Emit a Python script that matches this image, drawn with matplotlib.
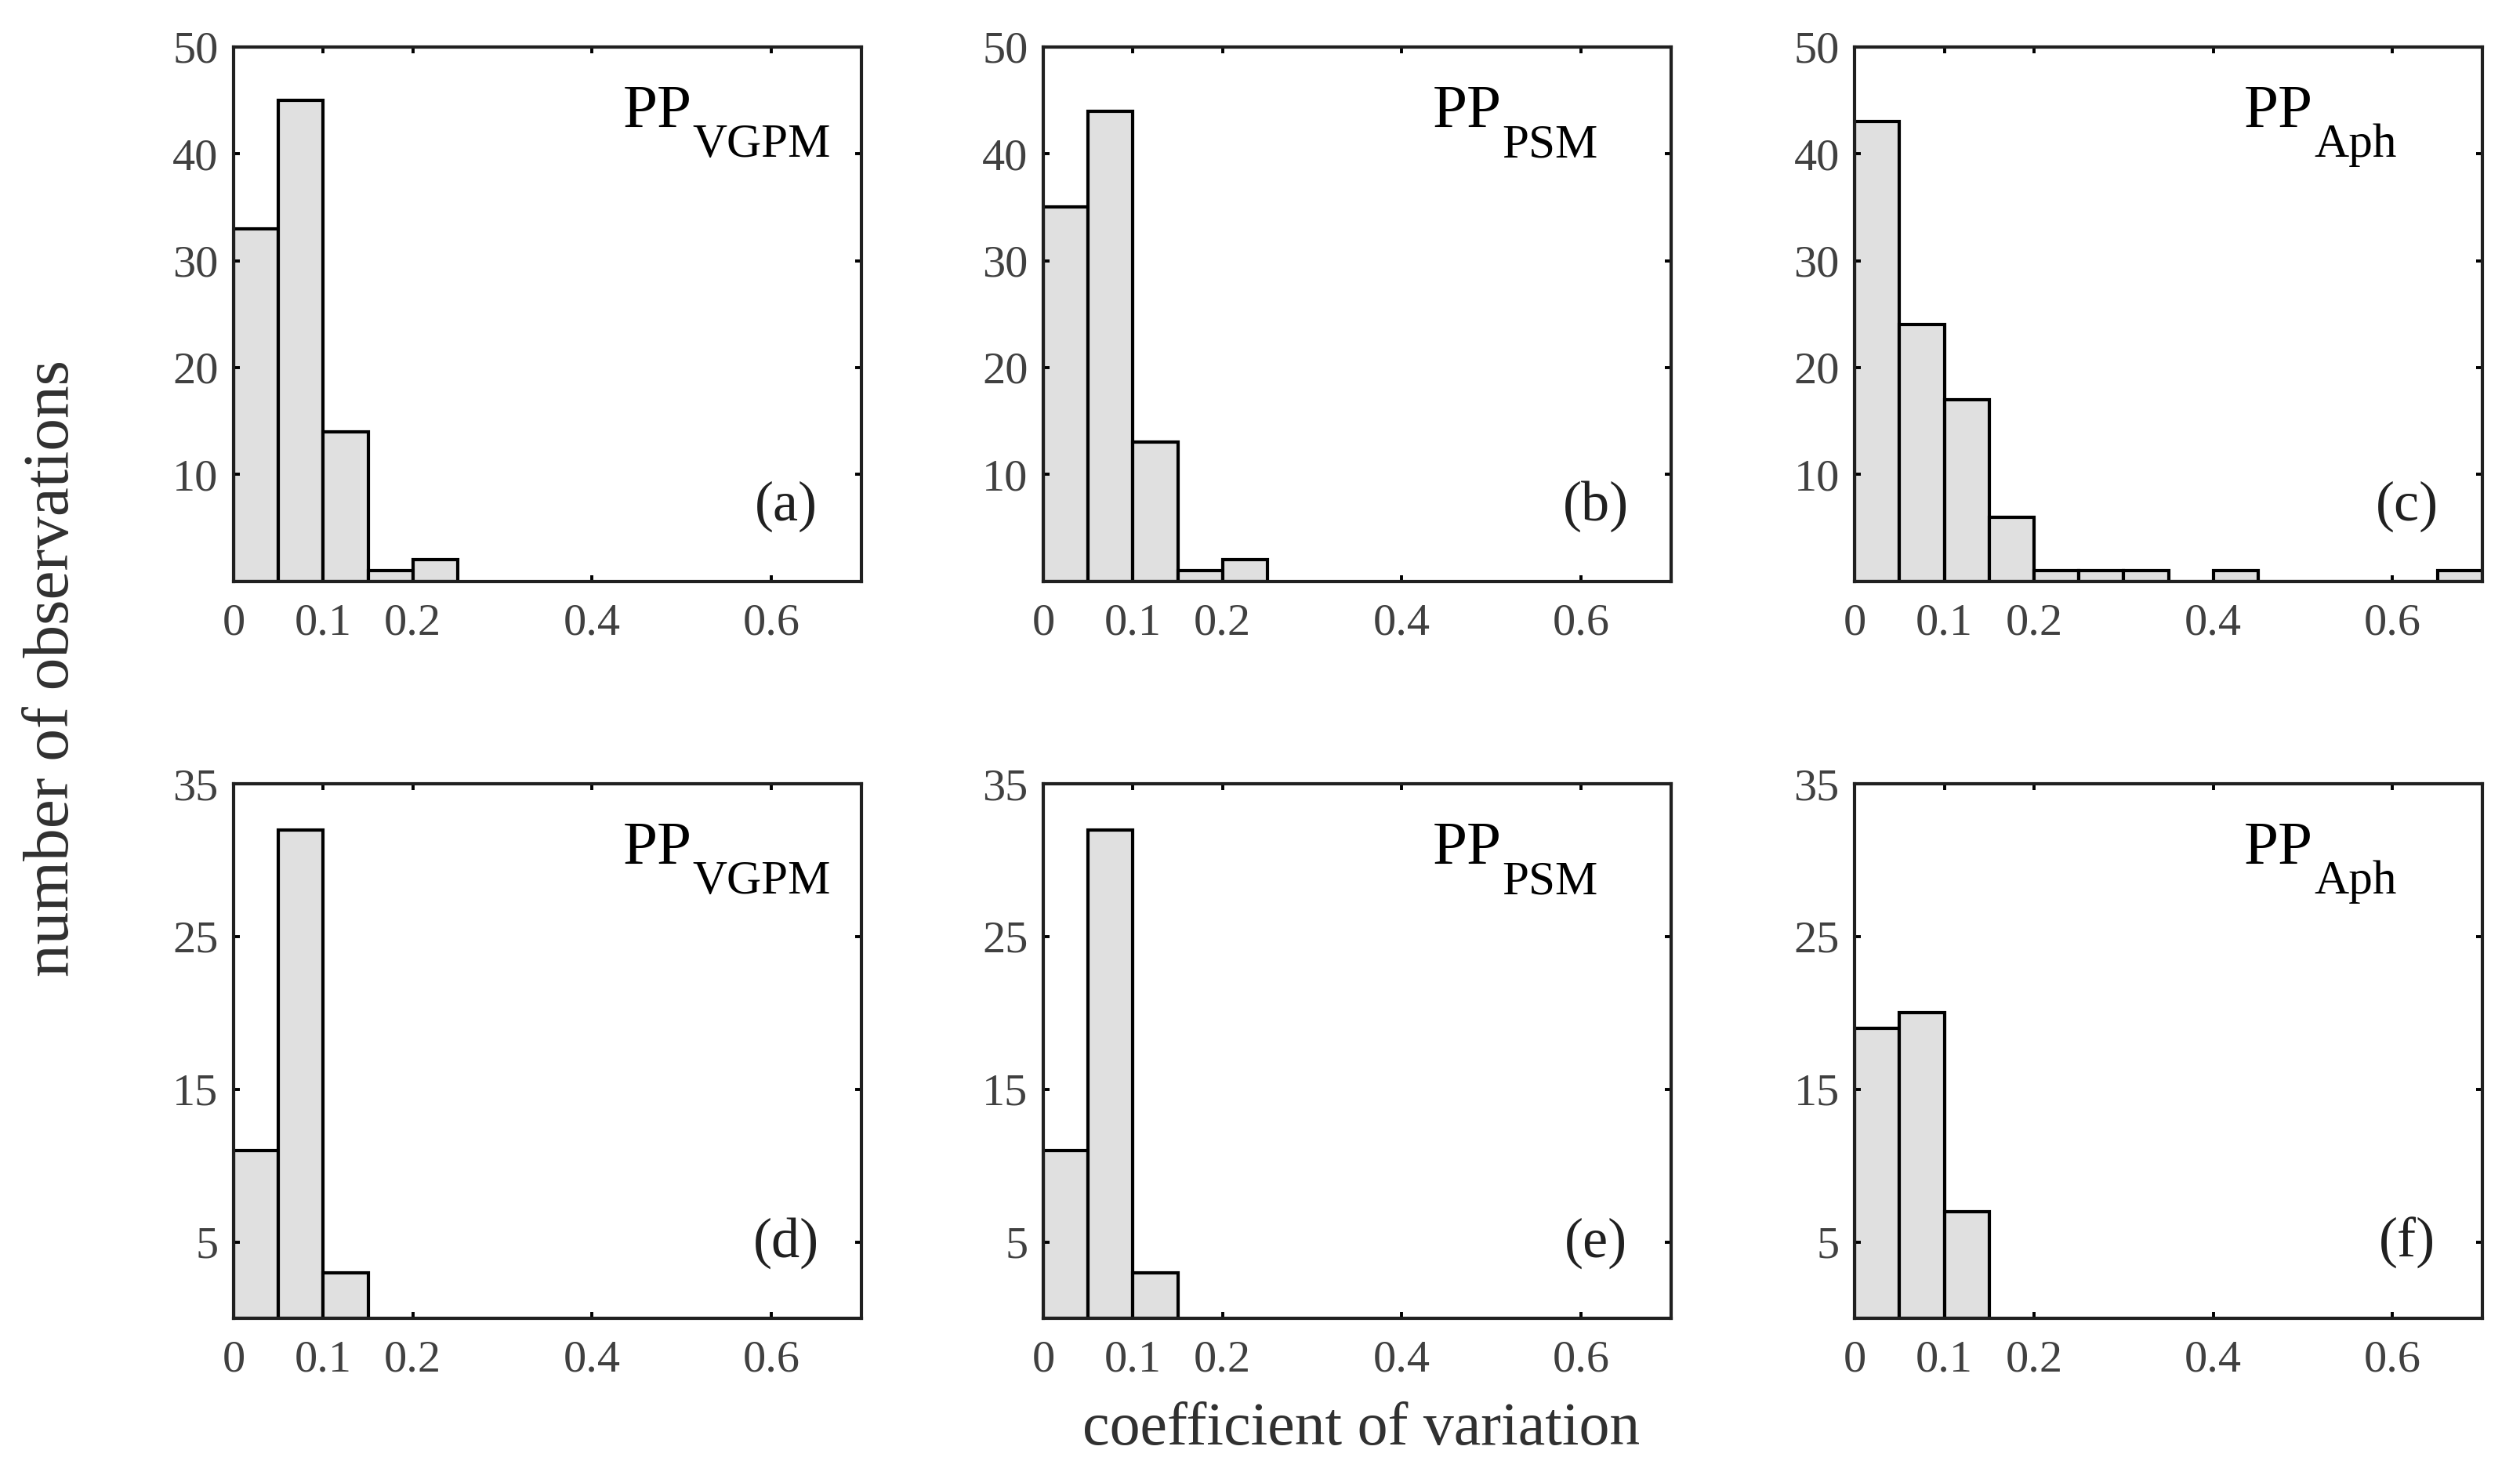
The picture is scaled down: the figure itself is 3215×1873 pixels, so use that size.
import numpy as np
import matplotlib
matplotlib.use("Agg")
import matplotlib.pyplot as plt

plt.rcParams['font.family'] = ['Liberation Serif', 'DejaVu Serif']

# counts per coefficient-of-variation bin (bins 0.05 wide, starting at 0)
bin_width = 0.05
counts_a = [33, 45, 14, 1, 2]
counts_b = [35, 44, 13, 1, 2]
counts_c = [43, 24, 17, 6, 1, 1, 1, 0, 1, 0, 0, 0, 0, 1]
counts_d = [11, 32, 3]
counts_e = [11, 32, 3]
counts_f = [19, 20, 7]

models = ['VGPM', 'PSM', 'Aph']
tags = ['(a)', '(b)', '(c)', '(d)', '(e)', '(f)']

x_ticks = [0, 0.1, 0.2, 0.4, 0.6]
x_ticklabels = ['0', '0.1', '0.2', '0.4', '0.6']
y_ticks_top = [10, 20, 30, 40, 50]
y_ticks_bottom = [5, 15, 25, 35]

all_counts = [counts_a, counts_b, counts_c, counts_d, counts_e, counts_f]

fig = plt.figure(figsize=(32.15, 18.73), dpi=100)

lefts = [0.0927, 0.414, 0.736]
bottoms = [0.604, 0.102]
w, h = 0.249, 0.364

for i, counts in enumerate(all_counts):
    row, col = divmod(i, 3)
    ax = fig.add_axes([lefts[col], bottoms[row], w, h])

    edges = np.arange(len(counts)) * bin_width
    ax.bar(edges, counts, width=bin_width, align='edge',
           color='#e0e0e0', edgecolor='black', linewidth=3)

    ax.set_xlim(0, 0.7)
    ax.set_xticks(x_ticks)
    ax.set_xticklabels(x_ticklabels)
    if row == 0:
        ax.set_ylim(0, 50)
        ax.set_yticks(y_ticks_top)
    else:
        ax.set_ylim(0, 35)
        ax.set_yticks(y_ticks_bottom)

    ax.tick_params(direction='in', top=True, right=True, length=6, width=2.8,
                   labelsize=42, labelcolor='#404040')
    ax.tick_params(axis='x', pad=20)
    ax.tick_params(axis='y', pad=14)
    for sp in ax.spines.values():
        sp.set_linewidth(3)
        sp.set_color('#202020')

    # model name with subscript
    pp = ax.text(0.62, 0.85, 'PP', transform=ax.transAxes, fontsize=57,
                 ha='left', va='baseline')
    ax.annotate(models[col], xy=(1, 0), xycoords=pp, xytext=(1, -15),
                textcoords='offset points', fontsize=44,
                ha='left', va='baseline')

    ax.text(0.88, 0.115, tags[i], transform=ax.transAxes, fontsize=52,
            ha='center', va='baseline', color='#202020')

fig.text(0.54, 0.016, 'coefficient of variation', fontsize=56,
         ha='center', va='baseline', color='#303030')
fig.text(0.021, 0.545, 'number of observations', fontsize=60,
         rotation=90, ha='center', va='center', color='#303030')

fig.savefig('out.png', dpi=100)
